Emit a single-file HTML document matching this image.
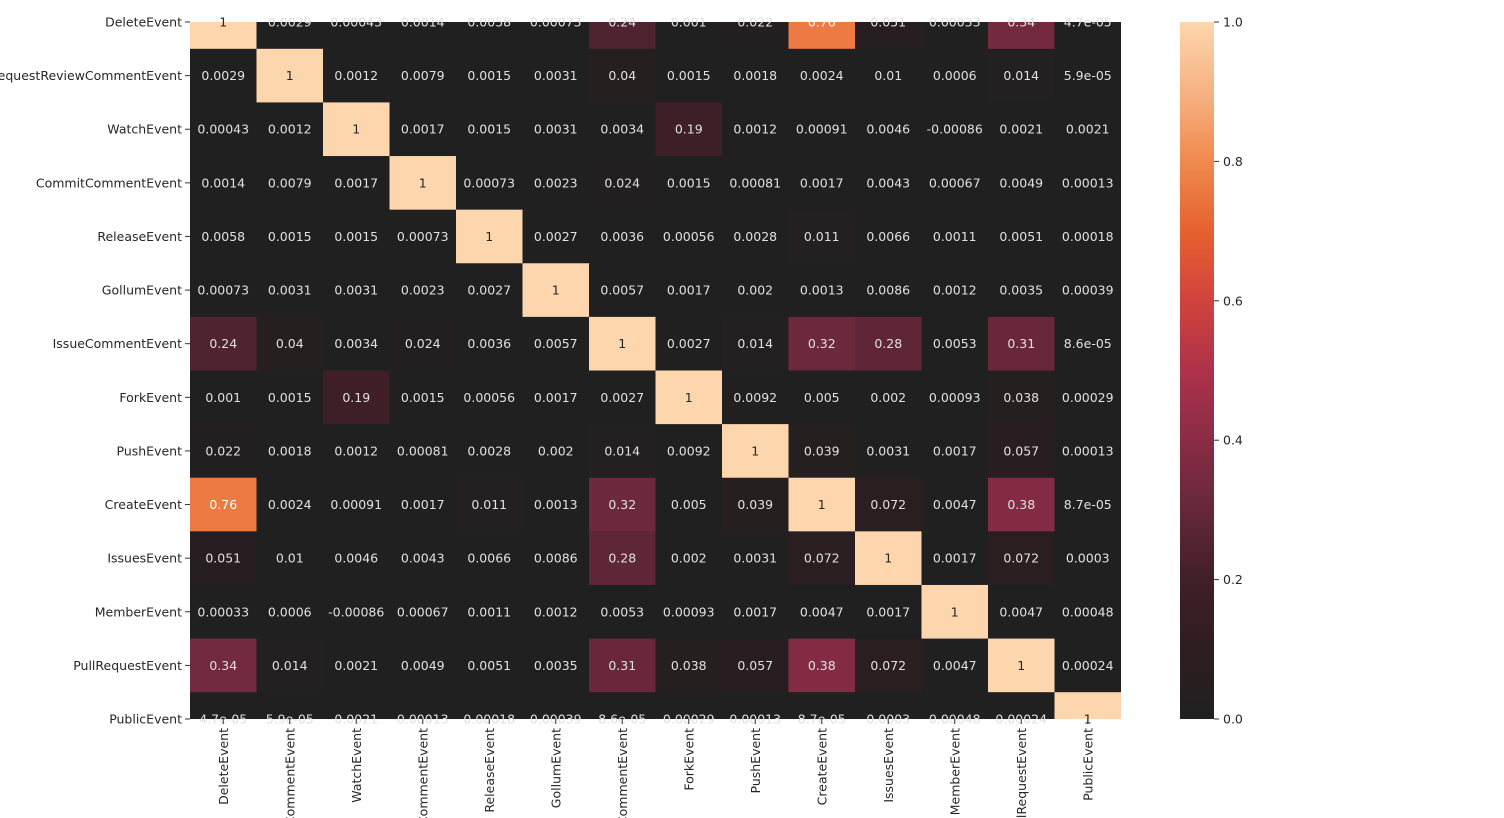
<!DOCTYPE html>
<html><head><meta charset="utf-8"><style>
html,body{margin:0;padding:0;background:#fff;width:1504px;height:818px;overflow:hidden}
svg{display:block}
svg text{font-family:"DejaVu Sans","Liberation Sans",sans-serif;font-size:12.5px}
</style></head><body>
<svg id="chart" width="1504" height="818" xmlns="http://www.w3.org/2000/svg" overflow="hidden">
<defs><linearGradient id="cbg" x1="0" y1="1" x2="0" y2="0">
<stop offset="0" stop-color="#202020"/><stop offset="0.1" stop-color="#2e1d21"/><stop offset="0.2" stop-color="#401f28"/>
<stop offset="0.3" stop-color="#652839"/><stop offset="0.4" stop-color="#8a2c46"/><stop offset="0.5" stop-color="#ad3249"/>
<stop offset="0.6" stop-color="#d1433d"/><stop offset="0.7" stop-color="#e6612f"/><stop offset="0.8" stop-color="#f08a4e"/>
<stop offset="0.9" stop-color="#f6b283"/><stop offset="1" stop-color="#fdd6ae"/></linearGradient>
<clipPath id="plotclip"><rect x="190" y="22" width="931" height="697"/></clipPath>
<clipPath id="pageclip"><rect x="0" y="0" width="1504" height="818"/></clipPath></defs>
<g clip-path="url(#pageclip)">
<g id="cells" clip-path="url(#plotclip)"></g>
<g id="texts"></g><g id="yaxis"></g><g id="xaxis"></g>
<rect x="1180" y="22" width="34" height="697" fill="url(#cbg)"/>
<g id="cbaxis"></g>
</g>
</svg>
<script>
const labels=["DeleteEvent","PullRequestReviewCommentEvent","WatchEvent","CommitCommentEvent","ReleaseEvent","GollumEvent","IssueCommentEvent","ForkEvent","PushEvent","CreateEvent","IssuesEvent","MemberEvent","PullRequestEvent","PublicEvent"];
const row0=["1","0.0029","0.00043","0.0014","0.0058","0.00073","0.24","0.001","0.022","0.76","0.051","0.00033","0.34","4.7e-05"];
const row1=["0.0029","1","0.0012","0.0079","0.0015","0.0031","0.04","0.0015","0.0018","0.0024","0.01","0.0006","0.014","5.9e-05"];
const row2=["0.00043","0.0012","1","0.0017","0.0015","0.0031","0.0034","0.19","0.0012","0.00091","0.0046","-0.00086","0.0021","0.0021"];
const row3=["0.0014","0.0079","0.0017","1","0.00073","0.0023","0.024","0.0015","0.00081","0.0017","0.0043","0.00067","0.0049","0.00013"];
const row4=["0.0058","0.0015","0.0015","0.00073","1","0.0027","0.0036","0.00056","0.0028","0.011","0.0066","0.0011","0.0051","0.00018"];
const row5=["0.00073","0.0031","0.0031","0.0023","0.0027","1","0.0057","0.0017","0.002","0.0013","0.0086","0.0012","0.0035","0.00039"];
const row6=["0.24","0.04","0.0034","0.024","0.0036","0.0057","1","0.0027","0.014","0.32","0.28","0.0053","0.31","8.6e-05"];
const row7=["0.001","0.0015","0.19","0.0015","0.00056","0.0017","0.0027","1","0.0092","0.005","0.002","0.00093","0.038","0.00029"];
const row8=["0.022","0.0018","0.0012","0.00081","0.0028","0.002","0.014","0.0092","1","0.039","0.0031","0.0017","0.057","0.00013"];
const row9=["0.76","0.0024","0.00091","0.0017","0.011","0.0013","0.32","0.005","0.039","1","0.072","0.0047","0.38","8.7e-05"];
const row10=["0.051","0.01","0.0046","0.0043","0.0066","0.0086","0.28","0.002","0.0031","0.072","1","0.0017","0.072","0.0003"];
const row11=["0.00033","0.0006","-0.00086","0.00067","0.0011","0.0012","0.0053","0.00093","0.0017","0.0047","0.0017","1","0.0047","0.00048"];
const row12=["0.34","0.014","0.0021","0.0049","0.0051","0.0035","0.31","0.038","0.057","0.38","0.072","0.0047","1","0.00024"];
const row13=["4.7e-05","5.9e-05","0.0021","0.00013","0.00018","0.00039","8.6e-05","0.00029","0.00013","8.7e-05","0.0003","0.00048","0.00024","1"];
const matrix=[row0,row1,row2,row3,row4,row5,row6,row7,row8,row9,row10,row11,row12,row13];
const cbTicks=["0.0","0.2","0.4","0.6","0.8","1.0"];

const NS="http://www.w3.org/2000/svg";
const n=labels.length, X0=190, X1=1121, Yc0=22, Yc1=719;
const cw=(X1-X0)/n, rh=(Yc1-Yc0)/(n-1);
const xc=j=>X0+cw*(j+0.5), yc=i=>Yc0+rh*i;
const stops=[[0,[32,32,32]],[0.1,[46,29,33]],[0.2,[64,31,40]],[0.3,[101,40,57]],[0.4,[138,44,70]],[0.5,[173,50,73]],[0.6,[209,67,61]],[0.7,[230,97,47]],[0.8,[240,138,78]],[0.9,[246,178,131]],[1,[253,214,174]]];
function color(v){v=Math.max(0,Math.min(1,v));for(let k=1;k<stops.length;k++){if(v<=stops[k][0]){const a=stops[k-1],b=stops[k],t=(v-a[0])/(b[0]-a[0]);return 'rgb('+a[1].map((c,i)=>Math.round(c+(b[1][i]-c)*t)).join(',')+')';}}}
function mk(t,attrs,parent){const e=document.createElementNS(NS,t);for(const k in attrs)e.setAttribute(k,attrs[k]);parent.appendChild(e);return e;}
const cells=document.getElementById('cells'),texts=document.getElementById('texts'),ya=document.getElementById('yaxis'),xa=document.getElementById('xaxis'),cb=document.getElementById('cbaxis');
for(let i=0;i<n;i++){for(let j=0;j<n;j++){const v=parseFloat(matrix[i][j]);
const r=mk('rect',{x:xc(j)-cw/2,y:yc(i)-rh/2,width:cw+0.5,height:rh+0.5,fill:color(v)},cells);


const t=mk('text',{x:xc(j),y:yc(i)+4.5,'text-anchor':'middle',fill:v>0.6?(v>0.85?'#262626':'#ffffff'):'#e0e0e0'},texts);
t.textContent=matrix[i][j];

}}
labels.forEach((l,i)=>{mk('line',{x1:185,x2:190,y1:yc(i),y2:yc(i),stroke:'#333'},ya);
const t=mk('text',{x:182,y:yc(i)+4.5,'text-anchor':'end',fill:'#262626'},ya);t.textContent=l;


mk('line',{x1:xc(i),x2:xc(i),y1:719,y2:724,stroke:'#333'},xa);
const u=mk('text',{x:0,y:0,'text-anchor':'end',fill:'#262626',transform:'translate('+(xc(i)+4.5)+',728) rotate(-90)'},xa);u.textContent=l;

});
cbTicks.forEach(s=>{const y=719-parseFloat(s)*697;mk('line',{x1:1214,x2:1219,y1:y,y2:y,stroke:'#333'},cb);
const t=mk('text',{x:1223,y:y+4.5,fill:'#262626'},cb);t.textContent=s;

});
</script>
</body></html>
